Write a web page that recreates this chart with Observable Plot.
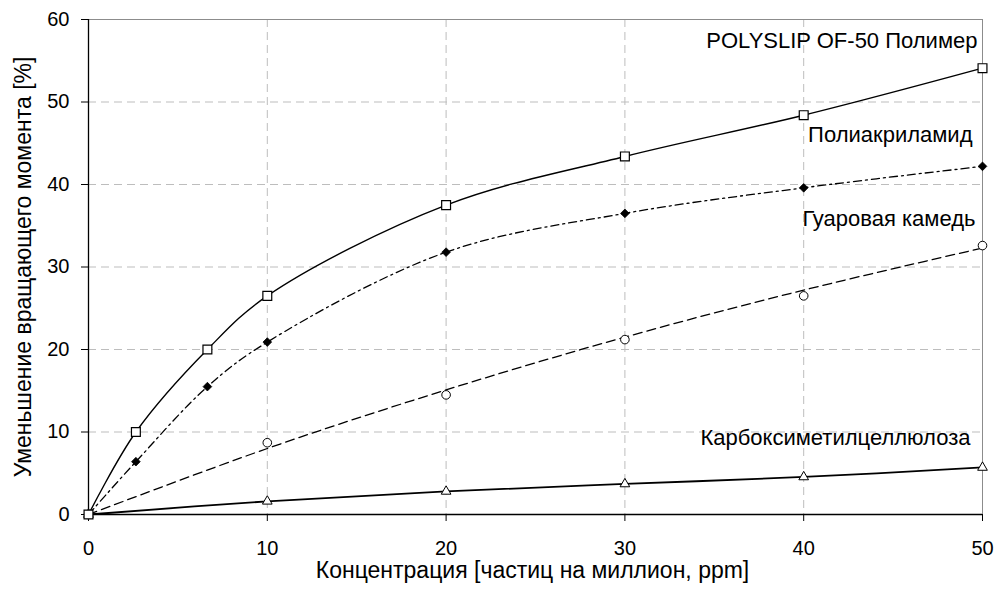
<!DOCTYPE html>
<html>
<head>
<meta charset="utf-8">
<script src="https://cdn.jsdelivr.net/npm/d3@7"></script>
<script src="https://cdn.jsdelivr.net/npm/@observablehq/plot@0.6"></script>
<style>
  html, body { margin: 0; padding: 0; background: #fff; }
</style>
</head>
<body>
<div id="chart"></div>
<script>
// ---- data ----
const xTicks = [0, 10, 20, 30, 40, 50];
const yTicks = [0, 10, 20, 30, 40, 50, 60];

const polyslipX = [0, 2.65, 6.65, 10, 20, 30, 40, 50];
const polyslipY = [0, 10.0, 20.0, 26.5, 37.5, 43.4, 48.4, 54.1];

const pamX = [0, 2.65, 6.65, 10, 20, 30, 40, 50];
const pamY = [0, 6.4, 15.5, 20.9, 31.8, 36.5, 39.6, 42.2];

const guarX = [0, 10, 20, 30, 40, 50];
const guarY = [0, 8.7, 14.5, 21.2, 26.5, 32.6];
const guarTrendY = [0, 8.0, 15.1, 21.5, 27.2, 32.3];

const cmcX = [0, 10, 20, 30, 40, 50];
const cmcY = [0, 1.6, 2.8, 3.7, 4.55, 5.7];

const seriesNames = ["POLYSLIP OF-50 Полимер", "Полиакриламид", "Гуаровая камедь", "Карбоксиметилцеллюлоза"];
const labelY = [56.5, 45.1, 35.0, 8.4];

const xTitle = "Концентрация [частиц на миллион, ppm]";
const yTitle = "Уменьшение вращающего момента [%]";

const fontFamily = '"Liberation Sans", Arial, sans-serif';
const tickFont = 20;
const labelFont = 22;
const titleFont = 23;

const toRows = (xs, ys) => xs.map((x, i) => ({x, y: ys[i]}));
const polyslip = toRows(polyslipX, polyslipY);
const pam = toRows(pamX, pamY);
const guar = toRows(guarX, guarY);
const guarTrend = toRows(guarX, guarTrendY);
const cmc = toRows(cmcX, cmcY);
const labelDx = [-5, -10, -7, -12];
const labelMarks = seriesNames.map((name, i) =>
  Plot.text([{name, x: xTicks[xTicks.length - 1], y: labelY[i]}], {
    x: "x", y: "y", text: "name", textAnchor: "end", lineAnchor: "bottom",
    dx: labelDx[i], fontSize: labelFont, fill: "#000"
  })
);

const chart = Plot.plot({
  width: 995,
  height: 598,
  marginLeft: 88,
  marginRight: 13,
  marginTop: 19,
  marginBottom: 84,
  style: {fontFamily, background: "#fff", color: "#000"},
  x: {domain: [0, 50]},
  y: {domain: [0, 60]},
  marks: [
    Plot.gridX(xTicks.filter(d => d > 0 && d < 50), {stroke: "#bdbdbd", strokeOpacity: 1, strokeDasharray: "8,5"}),
    Plot.gridY(yTicks.filter(d => d > 0 && d < 60), {stroke: "#bdbdbd", strokeOpacity: 1, strokeDasharray: "8,5"}),
    Plot.ruleY([60], {stroke: "#8c8c8c"}),
    Plot.ruleX([50], {stroke: "#8c8c8c"}),
    Plot.axisX({ticks: xTicks, tickSize: 7, tickPadding: 19, fontSize: tickFont, label: null, stroke: "#000"}),
    Plot.axisY({ticks: yTicks, tickSize: 7, tickPadding: 12, fontSize: tickFont, label: null, stroke: "#000"}),
    Plot.ruleX([0], {stroke: "#000", strokeWidth: 1.3}),
    Plot.ruleY([0], {stroke: "#000", strokeWidth: 1.3}),

    // CMC
    Plot.line(cmc, {x: "x", y: "y", stroke: "#000", strokeWidth: 1.8, curve: "catmull-rom"}),
    Plot.dot(cmc, {x: "x", y: "y", symbol: "triangle", r: 3.6, fill: "#fff", stroke: "#000", strokeWidth: 1}),
    // Guar
    Plot.line(guarTrend, {x: "x", y: "y", stroke: "#000", strokeWidth: 1.3, strokeDasharray: "9,5", curve: "catmull-rom"}),
    Plot.dot(guar, {x: "x", y: "y", symbol: "circle", r: 4.3, fill: "#fff", stroke: "#000", strokeWidth: 1}),
    // PAM
    Plot.line(pam, {x: "x", y: "y", stroke: "#000", strokeWidth: 1.3, strokeDasharray: "8,4,2,4", curve: "catmull-rom"}),
    Plot.dot(pam, {x: "x", y: "y", symbol: "diamond2", r: 3.9, fill: "#000", stroke: "#000", strokeWidth: 0.8}),
    // POLYSLIP
    Plot.line(polyslip, {x: "x", y: "y", stroke: "#000", strokeWidth: 1.4, curve: "catmull-rom"}),
    Plot.dot(polyslip, {x: "x", y: "y", symbol: "square", r: 5.0, fill: "#fff", stroke: "#000", strokeWidth: 1.2}),

    ...labelMarks,
    // axis titles
    Plot.text([xTitle], {frameAnchor: "bottom", textAnchor: "middle", lineAnchor: "middle", dy: 56, dx: -3, fontSize: titleFont, fill: "#000"}),
    Plot.text([yTitle], {frameAnchor: "left", textAnchor: "middle", lineAnchor: "middle", dx: -65, rotate: -90, fontSize: titleFont, fill: "#000"})
  ]
});
document.getElementById("chart").appendChild(chart);
</script>
</body>
</html>
